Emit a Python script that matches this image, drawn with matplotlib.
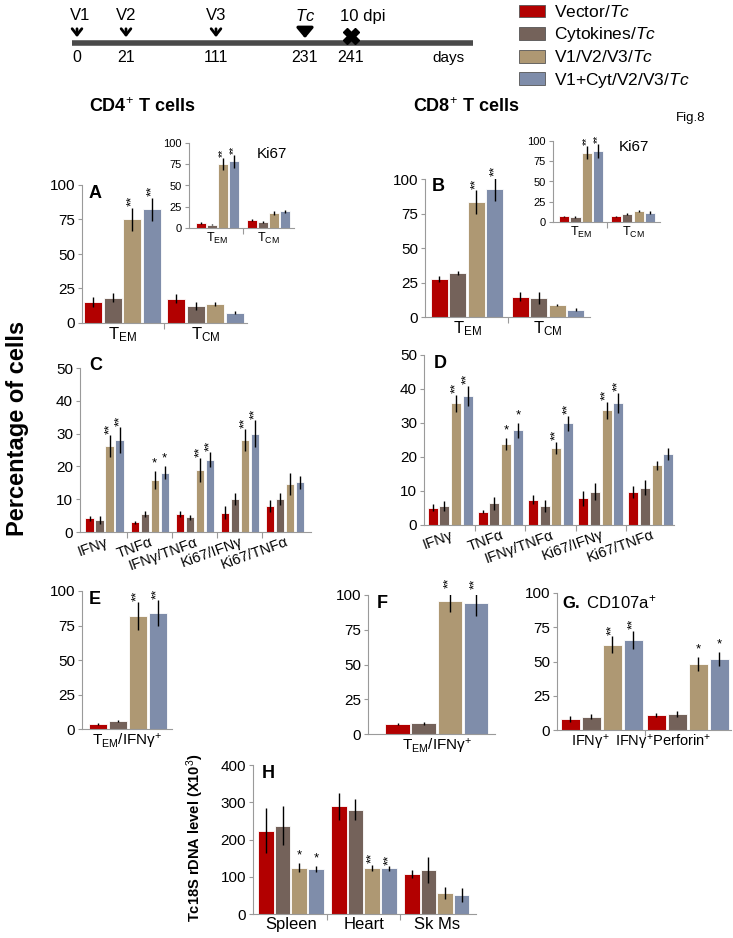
import matplotlib
matplotlib.use('Agg')
import matplotlib.pyplot as plt
from matplotlib.patches import Patch
from matplotlib.transforms import ScaledTranslation
import numpy as np

plt.rcParams['font.family'] = ['Liberation Sans', 'DejaVu Sans']
plt.rcParams['mathtext.fontset'] = 'custom'
plt.rcParams['mathtext.rm'] = 'Liberation Sans'
plt.rcParams['mathtext.it'] = 'Liberation Sans:italic'
plt.rcParams['mathtext.bf'] = 'Liberation Sans:bold'

# groups / colours
groups = ['Vector/$\\it{Tc}$', 'Cytokines/$\\it{Tc}$', 'V1/V2/V3/$\\it{Tc}$', 'V1+Cyt/V2/V3/$\\it{Tc}$']
colors = ['#B20000', '#74625A', '#AE9873', '#7F8DAA']

# timeline
tl_labels = ['V1', 'V2', 'V3', '$\\it{Tc}$', '10 dpi']
tl_days = [0, 21, 111, 231, 241]

# values: rows = groups, columns = categories
mem_cats = ['T$_{\\rm EM}$', 'T$_{\\rm CM}$']
cyt_cats = ['IFNγ', 'TNFα', 'IFNγ/TNFα', 'Ki67/IFNγ', 'Ki67/TNFα']
ifn_cats = ['T$_{\\rm EM}$/IFNγ$^{+}$']
g_cats = ['IFNγ$^{+}$', 'IFNγ$^{+}$Perforin$^{+}$']
h_cats = ['Spleen', 'Heart', 'Sk Ms']

a_vals = [[15.3, 17.7], [18.4, 12.1], [75.3, 13.8], [82.3, 7.5]]
a_err = [[3.5, 3.2], [3.3, 3.0], [8.3, 1.2], [8.5, 1.1]]
a_stars = [['', ''], ['', ''], ['**', ''], ['**', '']]

ai_vals = [[5.9, 9.4], [3.9, 7.1], [75.3, 17.6], [78.4, 19.6]]
ai_err = [[1.0, 1.5], [0.8, 1.0], [6.9, 2.0], [8.0, 2.0]]
ai_stars = [['', ''], ['', ''], ['**', ''], ['**', '']]

b_vals = [[27.4, 14.8], [31.6, 13.6], [83.3, 8.5], [92.5, 5.3]]
b_err = [[2.0, 3.0], [1.5, 4.2], [8.7, 0.8], [8.7, 1.0]]
b_stars = [['', ''], ['', ''], ['**', ''], ['**', '']]

bi_vals = [[6.9, 6.9], [6.1, 9.7], [85.8, 13.8], [87.9, 11.7]]
bi_err = [[1.0, 1.0], [1.0, 1.0], [8.5, 1.5], [8.7, 1.5]]
bi_stars = [['', ''], ['', ''], ['**', ''], ['**', '']]

c_vals = [[4.2, 3.0, 5.5, 5.9, 8.0], [3.7, 5.5, 4.5, 10.0, 10.0],
          [26.2, 15.9, 18.9, 28.0, 14.6], [28.0, 18.1, 22.0, 30.0, 15.1]]
c_err = [[0.8, 0.5, 1.0, 2.0, 1.9], [1.2, 1.0, 0.8, 1.8, 1.8],
         [3.3, 2.8, 3.6, 3.3, 3.4], [3.9, 1.9, 2.3, 4.1, 2.0]]
c_stars = [['']*5, ['']*5, ['**', '*', '**', '**', ''], ['**', '*', '**', '**', '']]

d_vals = [[5.1, 3.9, 7.4, 7.8, 9.8], [5.6, 6.4, 5.6, 9.8, 11.0],
          [35.8, 23.8, 22.7, 33.8, 17.6], [37.9, 27.9, 29.9, 35.8, 20.8]]
d_err = [[1.0, 0.5, 1.3, 2.3, 1.8], [1.5, 1.9, 1.7, 2.5, 2.1],
         [2.5, 1.7, 1.7, 2.5, 1.3], [3.0, 2.2, 2.2, 3.0, 1.8]]
d_stars = [['']*5, ['']*5, ['**', '*', '**', '**', ''], ['**', '*', '**', '**', '']]

e_vals = [[3.6], [6.0], [81.7], [84.1]]
e_err = [[1.0], [0.8], [10.2], [9.4]]
e_stars = [[''], [''], ['**'], ['**']]

f_vals = [[7.2], [7.7], [95.7], [94.0]]
f_err = [[1.0], [1.0], [8.0], [9.0]]
f_stars = [[''], [''], ['**'], ['**']]

g_vals = [[8.0, 11.0], [9.8, 11.7], [62.2, 48.0], [65.9, 52.0]]
g_err = [[2.0, 1.5], [2.0, 2.5], [6.3, 5.2], [6.7, 5.1]]
g_stars = [['', ''], ['', ''], ['**', '*'], ['**', '*']]

h_vals = [[224, 289, 107], [237, 280, 118], [124, 124, 56], [120, 122.6, 52]]
h_err = [[61, 36, 11], [52, 28, 36], [12, 8, 16.5], [8.5, 6, 19]]
h_stars = [['', '', ''], ['', '', ''], ['*', '**', ''], ['*', '**', '']]

W, H = 733, 938
fig = plt.figure(figsize=(W / 100, H / 100), dpi=100)


def box(x0, y0, x1, y1):
    return [x0 / W, 1 - y1 / H, (x1 - x0) / W, (y1 - y0) / H]


def panel(rect, vals, errs, stars, cats, xlim, ylim, yticks, step, width,
          tick_fs=11, cat_fs=12, star_fs=9.5, rot=0):
    ax = fig.add_axes(box(*rect))
    n = len(cats)
    x = np.arange(n)
    pad = ylim[1] * 0.01
    for i in range(4):
        pos = x + (i - 1.5) * step
        ax.bar(pos, vals[i], width, yerr=errs[i], color=colors[i],
               edgecolor='white', linewidth=0.6,
               error_kw=dict(ecolor='black', elinewidth=1, capsize=0))
        for j in range(n):
            s = stars[i][j]
            if s:
                ax.text(pos[j], vals[i][j] + errs[i][j] + pad, s,
                        rotation=90 if len(s) > 1 else 0, ha='center',
                        va='bottom', fontsize=star_fs, clip_on=False)
    ax.set_xlim(xlim)
    ax.set_ylim(ylim)
    ax.set_yticks(yticks)
    for s in ['top', 'right']:
        ax.spines[s].set_visible(False)
    for s in ['left', 'bottom']:
        ax.spines[s].set_color('#9a9a9a')
        ax.spines[s].set_linewidth(0.8)
    ax.tick_params(axis='y', length=3, width=0.8, color='#9a9a9a',
                   labelsize=tick_fs, pad=2)
    ax.set_xticks(x)
    if rot:
        ax.set_xticklabels(cats, fontsize=cat_fs, rotation=rot, ha='right',
                           rotation_mode='anchor')
    else:
        ax.set_xticklabels(cats, fontsize=cat_fs)
    ax.tick_params(axis='x', length=0, pad=2)
    if n > 1:
        ax.set_xticks(x[:-1] + 0.5, minor=True)
        ax.tick_params(axis='x', which='minor', length=4, width=0.8,
                       color='#9a9a9a')
    ax.patch.set_alpha(0)
    return ax


def letter(ax, s, y=1.0, x=0.04, fs=13):
    ax.text(x, y, s, transform=ax.transAxes, fontsize=fs, weight='bold',
            ha='left', va='top')


t100 = [0, 25, 50, 75, 100]
t50 = [0, 10, 20, 30, 40, 50]

ax_a = panel((82, 185, 247, 323), a_vals, a_err, a_stars, mem_cats,
             (-0.49, 1.5), (0, 100), t100, 0.236, 0.218)
letter(ax_a, 'A')
ax_ai = panel((189, 143, 294, 228), ai_vals, ai_err, ai_stars, mem_cats,
              (-0.56, 1.5), (0, 100), t100, 0.22, 0.2,
              tick_fs=8, cat_fs=9, star_fs=7.5)
ax_ai.text(0.65, 0.87, 'Ki67', transform=ax_ai.transAxes, fontsize=11,
           va='center')

ax_b = panel((425, 179, 590, 317), b_vals, b_err, b_stars, mem_cats,
             (-0.52, 1.52), (0, 100), t100, 0.23, 0.21)
letter(ax_b, 'B', y=1.01)
ax_bi = panel((553, 141, 660, 222), bi_vals, bi_err, bi_stars, mem_cats,
              (-0.54, 1.52), (0, 100), t100, 0.22, 0.2,
              tick_fs=8, cat_fs=9, star_fs=7.5)
ax_bi.text(0.61, 0.92, 'Ki67', transform=ax_bi.transAxes, fontsize=11,
           va='center')

ax_c = panel((80, 368, 311, 532), c_vals, c_err, c_stars, cyt_cats,
             (-0.55, 4.58), (0, 50), t50, 0.222, 0.19, cat_fs=10.5, rot=20)
letter(ax_c, 'C', y=1.07)
ax_d = panel((424, 355, 674, 525), d_vals, d_err, d_stars, cyt_cats,
             (-0.52, 4.46), (0, 50), t50, 0.233, 0.2, cat_fs=10.5, rot=20)
letter(ax_d, 'D')

ax_e = panel((82, 591, 172, 729), e_vals, e_err, e_stars, ifn_cats,
             (-0.506, 0.494), (0, 100), t100, 0.222, 0.2, cat_fs=11)
letter(ax_e, 'E', x=0.07)
ax_f = panel((368, 595, 495, 734), f_vals, f_err, f_stars, ifn_cats,
             (-0.54, 0.46), (0, 100), t100, 0.205, 0.19, cat_fs=11)
letter(ax_f, 'F', x=0.07)
ax_g = panel((557, 593, 731, 730), g_vals, g_err, g_stars, g_cats,
             (-0.52, 1.5), (0, 100), t100, 0.244, 0.225, cat_fs=10.5)
ax_g.text(0.03, 1.0, '$\\bf{G.}$ CD107a$^{+}$', transform=ax_g.transAxes,
          fontsize=12, ha='left', va='top')
# labels under G sit left of the bar groups in the original
for lab, dx in zip(ax_g.get_xticklabels(), [-12, -25]):
    lab.set_transform(lab.get_transform() +
                      ScaledTranslation(dx / 100, 0, fig.dpi_scale_trans))

ax_h = panel((253, 765, 476, 914), h_vals, h_err, h_stars, h_cats,
             (-0.52, 2.54), (0, 400), [0, 100, 200, 300, 400], 0.228, 0.215)
letter(ax_h, 'H')

# axis titles
fig.text(18 / W, 1 - 428 / H, 'Percentage of cells', rotation=90,
         ha='center', va='center', fontsize=17, weight='bold')
fig.text(195 / W, 1 - 838 / H, 'Tc18S rDNA level (X10$^{3}$)', rotation=90,
         ha='center', va='center', fontsize=10.5, weight='bold')
fig.text(89 / W, 1 - 107 / H, 'CD4$^{+}$ T cells', fontsize=13,
         weight='bold', va='center')
fig.text(413 / W, 1 - 107 / H, 'CD8$^{+}$ T cells', fontsize=13,
         weight='bold', va='center')
fig.text(676 / W, 1 - 118 / H, 'Fig.8', fontsize=9.5, va='center')

# timeline (schematic, not to scale)
ov = fig.add_axes([0, 0, 1, 1])
ov.set_xlim(0, W)
ov.set_ylim(H, 0)
ov.axis('off')
ov.patch.set_alpha(0)
tl_x = [77, 126, 216, 305, 351]
ov.plot([72, 473], [43, 43], color='#4a4a4a', lw=4, solid_capstyle='butt')
for k in range(5):
    xk = tl_x[k]
    if k < 3:
        ov.annotate('', xy=(xk, 40), xytext=(xk, 26),
                    arrowprops=dict(arrowstyle='->,head_width=0.35,head_length=0.45',
                                    lw=2.0, color='black'))
    elif k == 3:
        ov.annotate('', xy=(xk, 41), xytext=(xk, 26),
                    arrowprops=dict(arrowstyle='-|>,head_width=0.5,head_length=0.6',
                                    lw=2.4, color='black'))
    else:
        ov.plot(xk, 36, marker='X', ms=11, color='black', mec='black')
    lx = xk + 3 if k == 0 else (xk + 12 if k == 4 else xk)
    ov.text(lx, 16, tl_labels[k], ha='center', va='center', fontsize=12)
    ov.text(xk, 58, str(tl_days[k]), ha='center', va='center', fontsize=11.5)
ov.text(448, 58, 'days', ha='center', va='center', fontsize=11)

# legend
handles = [Patch(facecolor=colors[i], edgecolor='#555555', linewidth=0.6)
           for i in range(4)]
fig.legend(handles, groups, loc='upper left',
           bbox_to_anchor=(519 / W, 1 - 4 / H), frameon=False, fontsize=12.5,
           handlelength=1.5, handleheight=0.75, handletextpad=0.5,
           labelspacing=0.3, borderaxespad=0, borderpad=0)

fig.savefig('out.png', dpi=100)
